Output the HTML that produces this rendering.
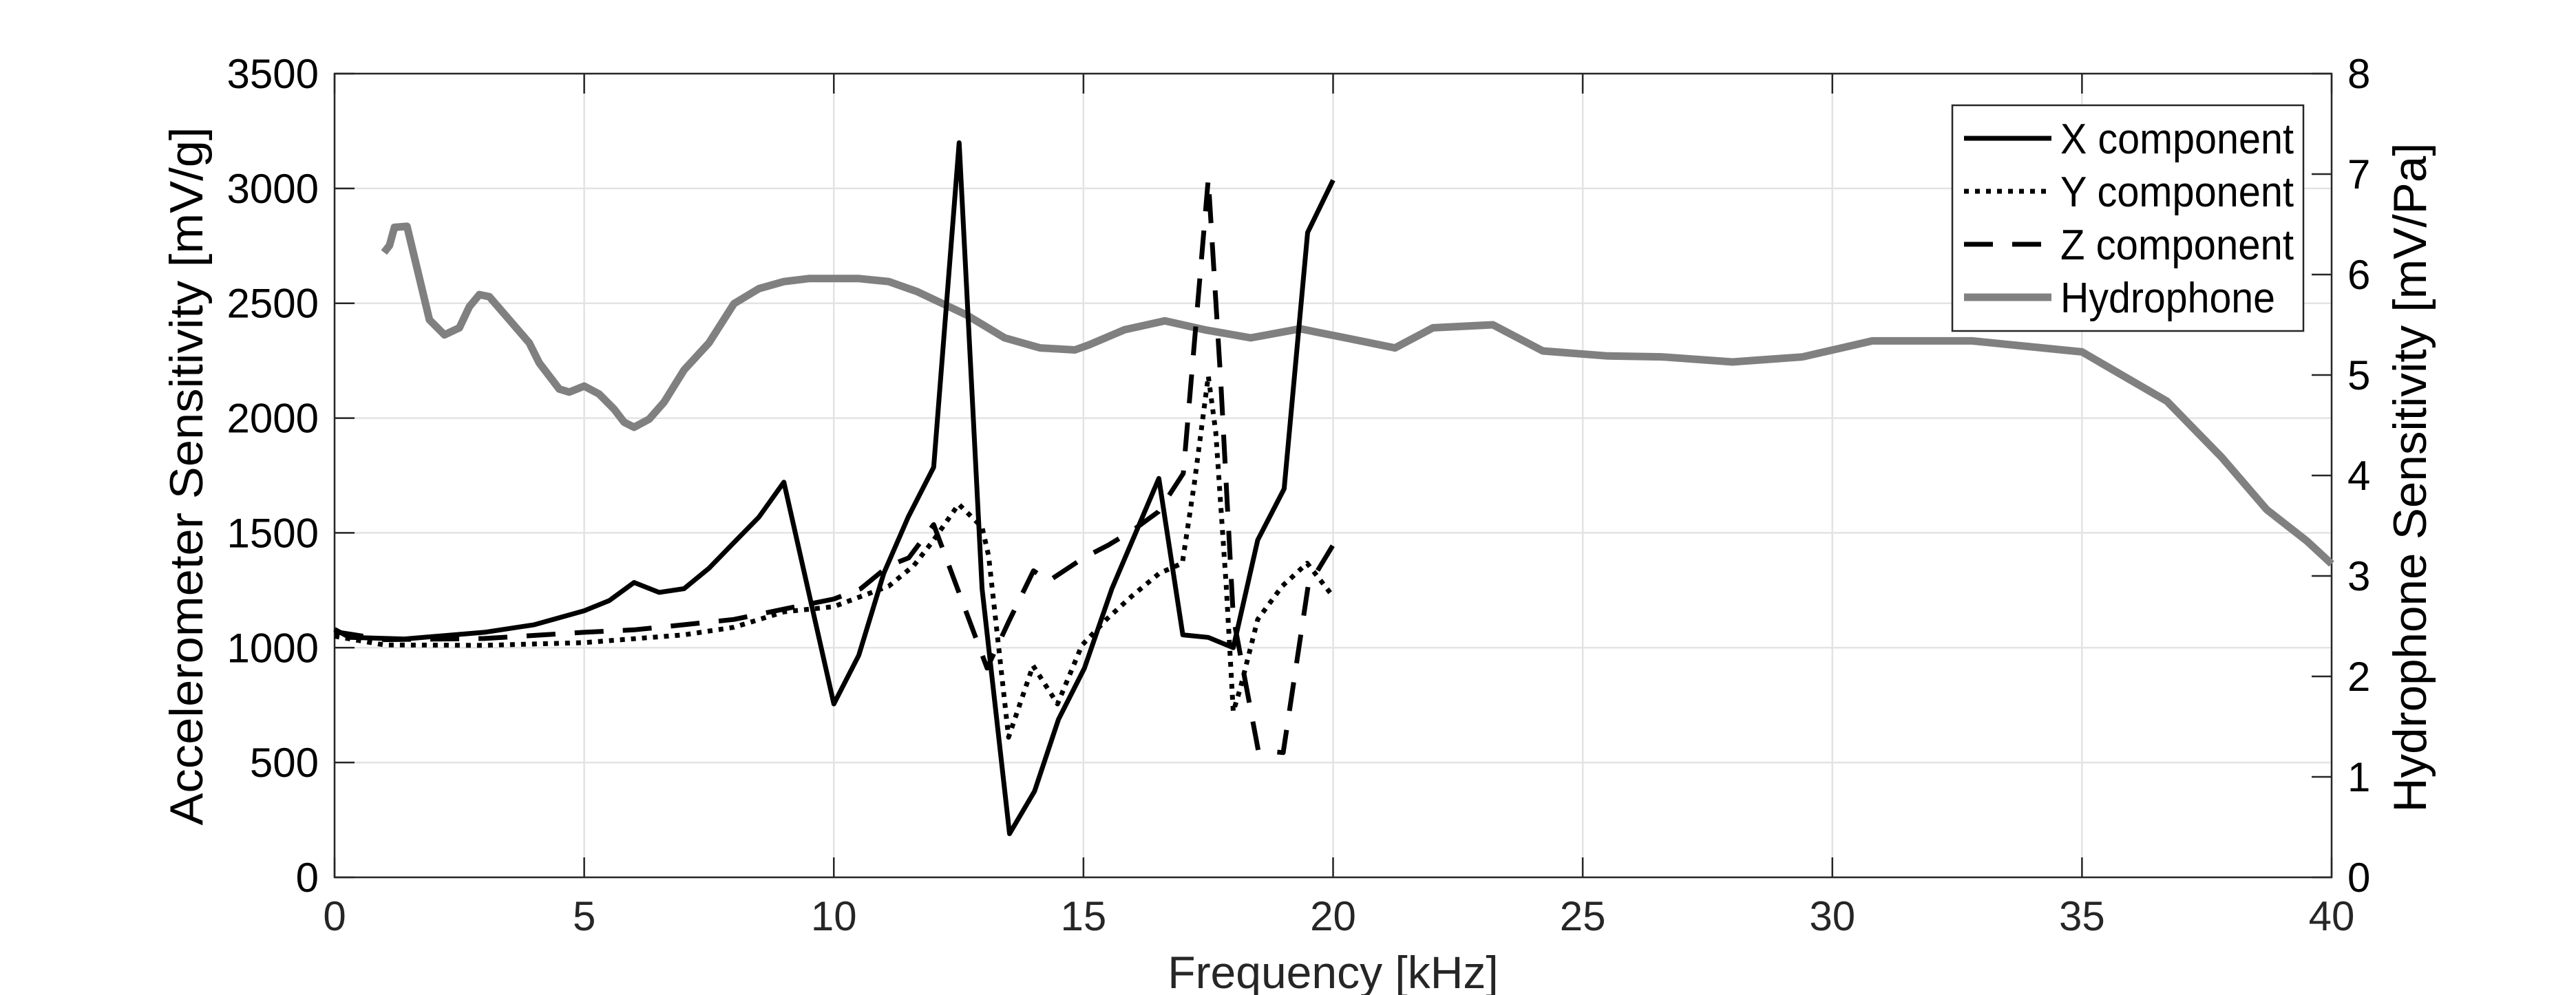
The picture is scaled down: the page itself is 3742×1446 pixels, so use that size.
<!DOCTYPE html>
<html><head><meta charset="utf-8"><style>
html,body{margin:0;padding:0;background:#fff}
svg{display:block}
text{font-family:"Liberation Sans Narrow","Liberation Sans",sans-serif}
</style></head><body>
<svg id="chart" width="3742" height="1446" viewBox="0 0 3742 1446" xmlns="http://www.w3.org/2000/svg"></svg>
<script>
const xTicks=[0,5,10,15,20,25,30,35,40];
const yLeftTicks=[0,500,1000,1500,2000,2500,3000,3500];
const yRightTicks=[0,1,2,3,4,5,6,7,8];
const xFreq=[0,0.3,1.4,3,4,5,5.5,6,6.5,7,7.5,8,8.5,9,10,10.5,11,11.49,12,12.51,12.97,13.52,14.02,14.5,15.02,15.57,16.51,16.99,17.5,18,18.49,19.02,19.49,20];
const xVals=[1080,1045,1038,1067,1100,1161,1205,1284,1241,1257,1346,1458,1569,1721,755,967,1324,1569,1786,3199,1257,190,375,688,911,1257,1737,1056,1045,1000,1469,1692,2808,3036];
const yFreq=[0,1,3,5,7,8,9,10,10.54,11.1,11.6,12,12.5,12.97,13.1,13.5,13.99,14.48,14.97,15.46,15.96,16.52,16.98,17.22,17.5,17.65,17.86,18,18.14,18.49,18.98,19.48,20];
const yVals=[1050,1012,1010,1022,1056,1089,1156,1179,1223,1268,1357,1469,1625,1525,1400,610,922,755,1011,1123,1223,1324,1368,1714,2183,1938,1268,721,822,1123,1268,1368,1223];
const zFreq=[0,1,3,5,6,7,8,9,10,10.54,11.1,11.5,12,13.07,13.5,14,14.3,15,15.5,16,16.5,17,17.5,17.75,18,18.5,19,19.5,20];
const zVals=[1070,1035,1040,1067,1078,1100,1123,1168,1212,1257,1357,1391,1536,911,1112,1335,1290,1391,1447,1513,1592,1759,3042,2161,1134,554,543,1268,1447];
const hFreq=[0.99,1.1,1.2,1.45,1.9,2.2,2.5,2.7,2.9,3.1,3.5,3.9,4.1,4.5,4.7,5,5.3,5.6,5.8,6,6.3,6.6,7,7.5,8,8.5,9,9.5,10,10.5,11.1,11.67,12.65,13.42,14.13,14.83,15.11,15.82,16.63,17.43,18.35,19.34,20.25,21.24,22,23.2,24.2,25.5,26.6,28,29.4,30.8,32.8,35,36.7,37.8,38.7,39.5,40];
const hVals=[6.22,6.29,6.47,6.48,5.55,5.40,5.47,5.68,5.80,5.78,5.55,5.32,5.12,4.86,4.83,4.89,4.81,4.66,4.53,4.48,4.56,4.73,5.05,5.32,5.71,5.86,5.93,5.96,5.96,5.96,5.93,5.83,5.60,5.37,5.27,5.25,5.30,5.45,5.54,5.45,5.37,5.46,5.37,5.27,5.47,5.50,5.24,5.19,5.18,5.13,5.18,5.34,5.34,5.23,4.74,4.18,3.66,3.35,3.12];

const L=486,R=3387,T=107,B=1275;
const sx=v=>L+(v/40)*(R-L);
const syL=v=>B-(v/3500)*(B-T);
const syR=v=>B-(v/8)*(B-T);
const svg=document.getElementById('chart');
const NS='http://www.w3.org/2000/svg';
function mk(tag,attrs,parent){const e=document.createElementNS(NS,tag);for(const k in attrs)e.setAttribute(k,attrs[k]);(parent||svg).appendChild(e);return e;}

const grid=mk('g',{});


xTicks.forEach(t=>{mk('line',{x1:sx(t),x2:sx(t),y1:T,y2:B,stroke:'#e3e3e3','stroke-width':2.5},grid);});
yLeftTicks.forEach(t=>{mk('line',{x1:L,x2:R,y1:syL(t),y2:syL(t),stroke:'#e3e3e3','stroke-width':2.5},grid);});

const axes=mk('g',{});


mk('rect',{x:L,y:T,width:R-L,height:B-T,fill:'none',stroke:'#262626','stroke-width':2.5},axes);
xTicks.forEach(t=>{
  mk('line',{x1:sx(t),x2:sx(t),y1:B,y2:B-29,stroke:'#262626','stroke-width':2.5},axes);
  mk('line',{x1:sx(t),x2:sx(t),y1:T,y2:T+29,stroke:'#262626','stroke-width':2.5},axes);
  const tx=mk('text',{x:sx(t),y:1352,'text-anchor':'middle','font-size':60,fill:'#262626'},axes);
  tx.textContent=t;
  
  
});
yLeftTicks.forEach(t=>{
  mk('line',{x1:L,x2:L+29,y1:syL(t),y2:syL(t),stroke:'#262626','stroke-width':2.5},axes);
  const tx=mk('text',{x:463,y:syL(t)+21,'text-anchor':'end','font-size':60,fill:'#000'},axes);
  tx.textContent=t;
  
  
});
yRightTicks.forEach(t=>{
  mk('line',{x1:R,x2:R-29,y1:syR(t),y2:syR(t),stroke:'#262626','stroke-width':2.5},axes);
  const tx=mk('text',{x:3410,y:syR(t)+21,'text-anchor':'start','font-size':60,fill:'#000'},axes);
  tx.textContent=t;
  
  
});

const xt=mk('text',{x:(L+R)/2,y:1436,'text-anchor':'middle','font-size':66,fill:'#262626'});
xt.textContent='Frequency [kHz]';


const ylt=mk('text',{x:0,y:0,'text-anchor':'middle','font-size':68,fill:'#000',transform:'translate(294,692) rotate(-90)',textLength:1015,lengthAdjust:'spacingAndGlyphs'});
ylt.textContent='Accelerometer Sensitivity [mV/g]';


const yrt=mk('text',{x:0,y:0,'text-anchor':'middle','font-size':68,fill:'#000',transform:'translate(3524,694) rotate(-90)',textLength:973,lengthAdjust:'spacingAndGlyphs'});
yrt.textContent='Hydrophone Sensitivity [mV/Pa]';



function series(fr,vals,sy,style,name){
  const d=fr.map((f,i)=>(i?'L':'M')+sx(f).toFixed(1)+','+sy(vals[i]).toFixed(1)).join(' ');
  const p=mk('path',Object.assign({d:d,fill:'none','stroke-linejoin':'round'},style));
  
  
}
series(hFreq,hVals,syR,{stroke:'#808080','stroke-width':11},'hydrophone-line');
series(zFreq,zVals,syL,{stroke:'#000','stroke-width':7,'stroke-dasharray':'42,28'},'z-component-line');
series(yFreq,yVals,syL,{stroke:'#000','stroke-width':7,'stroke-dasharray':'7,9'},'y-component-line');
series(xFreq,xVals,syL,{stroke:'#000','stroke-width':7},'x-component-line');

const lg=mk('g',{});


mk('rect',{x:2836,y:153,width:510,height:328,fill:'#fff',stroke:'#262626','stroke-width':2.5},lg);
const entries=[['X component',{stroke:'#000','stroke-width':7}],['Y component',{stroke:'#000','stroke-width':7,'stroke-dasharray':'7,9'}],['Z component',{stroke:'#000','stroke-width':7,'stroke-dasharray':'42,28'}],['Hydrophone',{stroke:'#808080','stroke-width':11}]];
const rowsY=[202,278,353,442-10];
entries.forEach((e,i)=>{
  const y=[201,278,355,432][i];
  const ln=mk('line',Object.assign({x1:2853,x2:2980,y1:y,y2:y},e[1]),lg);
  
  
  const tx=mk('text',{x:2993,y:y+22,'font-size':62,fill:'#000'},lg);
  tx.textContent=e[0];
  if(i<3){tx.setAttribute('textLength',339);tx.setAttribute('lengthAdjust','spacingAndGlyphs');}
  else{tx.setAttribute('textLength',312);tx.setAttribute('lengthAdjust','spacingAndGlyphs');}
  
  
});
</script>
</body></html>
